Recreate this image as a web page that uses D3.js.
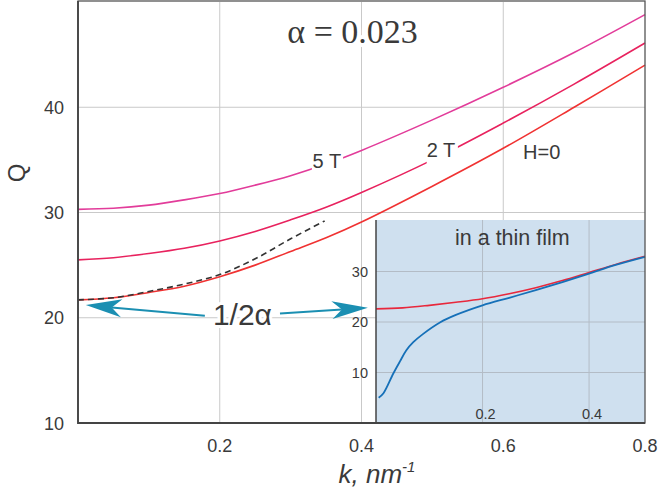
<!DOCTYPE html>
<html>
<head>
<meta charset="utf-8">
<script src="https://cdn.jsdelivr.net/npm/d3@7"></script>
<style>
  body { margin: 0; background: #fff; }
  text { font-family: "Liberation Sans", Arial, sans-serif; fill: #3a3a3a; }
</style>
</head>
<body>
<svg id="chart" width="660" height="496"></svg>
<script>
// main panel data, Q vs k
const kMain = [0, 0.05, 0.1, 0.15, 0.2, 0.25, 0.3, 0.35, 0.4, 0.5, 0.6, 0.7, 0.8];
const qH0 = [21.7, 21.9, 22.4, 23.0, 23.9, 25.0, 26.3, 27.6, 29.1, 32.5, 36.1, 40.0, 44.0];
const q2T = [25.5, 25.7, 26.1, 26.6, 27.3, 28.2, 29.3, 30.5, 31.9, 35.0, 38.5, 42.2, 46.1];
const q5T = [30.3, 30.4, 30.7, 31.2, 31.8, 32.6, 33.5, 34.6, 35.9, 38.8, 41.9, 45.2, 48.8];

// dashed approximation near k=0
const kDash = [0, 0.05, 0.1, 0.15, 0.2, 0.25, 0.3, 0.348];
const qDash = [21.7, 21.9, 22.5, 23.2, 24.1, 25.6, 27.5, 29.2];

// inset: thin film
const kInRed = [0, 0.05, 0.1, 0.15, 0.2, 0.25, 0.3, 0.35, 0.4, 0.45, 0.505];
const qInRed = [22.6, 22.8, 23.3, 23.9, 24.6, 25.6, 26.8, 28.2, 29.8, 31.4, 33.0];
const kInBlue = [0.005, 0.014, 0.032, 0.045, 0.057, 0.07, 0.088, 0.12, 0.15, 0.2, 0.25, 0.3, 0.35, 0.4, 0.45, 0.505];
const qInBlue = [5.0, 5.9, 9.7, 12.2, 14.4, 16.0, 17.6, 19.9, 21.4, 23.3, 24.8, 26.3, 27.9, 29.6, 31.3, 32.9];

const xTicks = [0.2, 0.4, 0.6, 0.8];
const yTicks = [10, 20, 30, 40];
const inXTicks = [0.2, 0.4];
const inYTicks = [10, 20, 30];

// curve labels and where the curve is broken for them
const curveLabels = [
  {text: "5 T", k: 0.331, q: 34.2, gap: [0.330, 0.374]},
  {text: "2 T", k: 0.492, q: 35.3, gap: [0.492, 0.536]},
  {text: "H=0", k: 0.628, q: 35.1, gap: null}
];

const svg = d3.select("#chart");

var x = d3.scaleLinear().domain([0, 0.8]).range([78, 645]),
    y = d3.scaleLinear().domain([10, 50]).range([423, 2]);

var ix = d3.scaleLinear().domain([0, 0.505]).range([376, 645]),
    iy = d3.scaleLinear().domain([0, 40]).range([423, 221]);

const gridColor = "#c9c9c9";

// grid
svg.append("g").selectAll("line").data(xTicks.slice(0, 3)).enter().append("line")
  .attr("x1", d => x(d)).attr("x2", d => x(d))
  .attr("y1", y(50)).attr("y2", y(10))
  .attr("stroke", gridColor).attr("stroke-width", 1);
svg.append("g").selectAll("line").data(yTicks).enter().append("line")
  .attr("x1", x(0)).attr("x2", x(0.8))
  .attr("y1", d => y(d)).attr("y2", d => y(d))
  .attr("stroke", gridColor).attr("stroke-width", 1);

const line = d3.line().curve(d3.curveCatmullRom.alpha(0.5))
  .x(d => x(d[0])).y(d => y(d[1]));

// clip paths that cut the curve where its label sits
const defs = svg.append("defs");
function clipFor(id, gap) {
  const cp = defs.append("clipPath").attr("id", id);
  if (!gap) {
    cp.append("rect").attr("x", 0).attr("y", 0).attr("width", 660).attr("height", 496);
  } else {
    cp.append("rect").attr("x", 0).attr("y", 0).attr("width", x(gap[0])).attr("height", 496);
    cp.append("rect").attr("x", x(gap[1])).attr("y", 0).attr("width", 660 - x(gap[1])).attr("height", 496);
  }
  return "url(#" + id + ")";
}

const series = [
  {q: q5T, color: "#e23c9a", lab: curveLabels[0]},
  {q: q2T, color: "#e8225e", lab: curveLabels[1]},
  {q: qH0, color: "#f03232", lab: curveLabels[2]}
];

series.forEach((s, i) => {
  svg.append("path")
    .datum(kMain.map((k, j) => [k, s.q[j]]))
    .attr("fill", "none")
    .attr("stroke", s.color)
    .attr("stroke-width", 1.6)
    .attr("clip-path", clipFor("gap" + i, s.lab.gap))
    .attr("d", line);
});

svg.append("path")
  .datum(kDash.map((k, j) => [k, qDash[j]]))
  .attr("fill", "none")
  .attr("stroke", "#333")
  .attr("stroke-width", 1.6)
  .attr("stroke-dasharray", "6,4")
  .attr("d", line);

svg.append("g").selectAll("text").data(curveLabels).enter().append("text")
  .attr("x", d => x(d.k)).attr("y", d => y(d.q))
  .attr("font-size", 20)
  .text(d => d.text);

// inset
const inset = svg.append("g");
inset.append("rect")
  .attr("x", ix(0)).attr("y", iy(40.2))
  .attr("width", ix(0.505) - ix(0)).attr("height", iy(0) - iy(40.2))
  .attr("fill", "#cfe0ef");
inset.append("g").selectAll("line").data(inXTicks).enter().append("line")
  .attr("x1", d => ix(d)).attr("x2", d => ix(d))
  .attr("y1", iy(40.2)).attr("y2", iy(0))
  .attr("stroke", "#b3bcc6").attr("stroke-width", 1);
inset.append("g").selectAll("line").data(inYTicks).enter().append("line")
  .attr("x1", ix(0)).attr("x2", ix(0.505))
  .attr("y1", d => iy(d)).attr("y2", d => iy(d))
  .attr("stroke", "#b3bcc6").attr("stroke-width", 1);

const iline = d3.line().curve(d3.curveCatmullRom.alpha(0.5))
  .x(d => ix(d[0])).y(d => iy(d[1]));

inset.append("path")
  .datum(kInRed.map((k, j) => [k, qInRed[j]]))
  .attr("fill", "none").attr("stroke", "#e8283c").attr("stroke-width", 1.6)
  .attr("d", iline);
inset.append("path")
  .datum(kInBlue.map((k, j) => [k, qInBlue[j]]))
  .attr("fill", "none").attr("stroke", "#1670b8").attr("stroke-width", 1.8)
  .attr("d", iline);

inset.append("line")
  .attr("x1", ix(0)).attr("x2", ix(0))
  .attr("y1", iy(40.2)).attr("y2", iy(0))
  .attr("stroke", "#444").attr("stroke-width", 1.5);

inset.append("g").selectAll("text").data(inYTicks).enter().append("text")
  .attr("x", ix(0) - 8).attr("y", d => iy(d) + 5)
  .attr("text-anchor", "end").attr("font-size", 14.5)
  .text(d => d);
inset.append("g").selectAll("text").data(inXTicks).enter().append("text")
  .attr("x", d => ix(d) + 3).attr("y", iy(0) - 4)
  .attr("text-anchor", "middle").attr("font-size", 14.5)
  .text(d => d);
inset.append("text")
  .attr("x", ix(0.256)).attr("y", iy(35.2))
  .attr("text-anchor", "middle").attr("font-size", 21.5)
  .text("in a thin film");

// frame
svg.append("rect")
  .attr("x", x(0)).attr("y", y(50) - 1)
  .attr("width", x(0.8) - x(0)).attr("height", y(10) - y(50) + 1)
  .attr("fill", "none").attr("stroke", "#555").attr("stroke-width", 1.3);
svg.append("path")
  .attr("d", "M" + x(0) + "," + (y(50) - 1) + "V" + y(10) + "H" + x(0.8))
  .attr("fill", "none").attr("stroke", "#444").attr("stroke-width", 1.8);

// tick labels
svg.append("g").selectAll("text").data(xTicks).enter().append("text")
  .attr("x", d => x(d)).attr("y", 452)
  .attr("text-anchor", "middle").attr("font-size", 18)
  .text(d => d);
svg.append("g").selectAll("text").data(yTicks).enter().append("text")
  .attr("x", 64).attr("y", d => y(d) + 6.5)
  .attr("text-anchor", "end").attr("font-size", 18)
  .text(d => d);

// axis titles
svg.append("text")
  .attr("transform", "translate(25,173) rotate(-90)")
  .attr("text-anchor", "middle").attr("font-size", 24)
  .text("Q");
const xt = svg.append("text")
  .attr("x", 377).attr("y", 483)
  .attr("text-anchor", "middle").attr("font-size", 26)
  .attr("font-style", "italic");
xt.append("tspan").text("k, nm");
xt.append("tspan").attr("font-size", 15).attr("dy", -11).text("-1");

// alpha annotation
svg.append("text")
  .attr("x", x(0.3874)).attr("y", y(46.1))
  .attr("text-anchor", "middle")
  .attr("font-size", 34)
  .style("font-family", "'Liberation Serif', 'Times New Roman', serif")
  .attr("stroke", "#fff").attr("stroke-width", 8).attr("paint-order", "stroke")
  .text("\u03B1 = 0.023");

// 1/2 alpha arrows
const arrowColor = "#1b8fb2";
const arrows = [
  {from: [0.179, 20.2], to: [0.011, 21.2]},
  {from: [0.285, 20.4], to: [0.409, 20.95]}
];
arrows.forEach(a => {
  const x0 = x(a.from[0]), y0 = y(a.from[1]);
  const x1 = x(a.to[0]), y1 = y(a.to[1]);
  const len = Math.hypot(x1 - x0, y1 - y0);
  const ux = (x1 - x0) / len, uy = (y1 - y0) / len;
  const nx = -uy, ny = ux;
  const L = 36, W = 9, N = 26;
  svg.append("line")
    .attr("x1", x0).attr("y1", y0)
    .attr("x2", x1 - N * ux).attr("y2", y1 - N * uy)
    .attr("stroke", arrowColor).attr("stroke-width", 2);
  const pts = [
    [x1, y1],
    [x1 - L * ux + W * nx, y1 - L * uy + W * ny],
    [x1 - N * ux, y1 - N * uy],
    [x1 - L * ux - W * nx, y1 - L * uy - W * ny]
  ];
  svg.append("path")
    .attr("d", "M" + pts.map(p => p.join(",")).join("L") + "Z")
    .attr("fill", arrowColor);
});

svg.append("text")
  .attr("x", x(0.232)).attr("y", y(19.3))
  .attr("text-anchor", "middle").attr("font-size", 30)
  .attr("stroke", "#fff").attr("stroke-width", 6).attr("paint-order", "stroke")
  .text("1/2\u03B1");
</script>
</body>
</html>
